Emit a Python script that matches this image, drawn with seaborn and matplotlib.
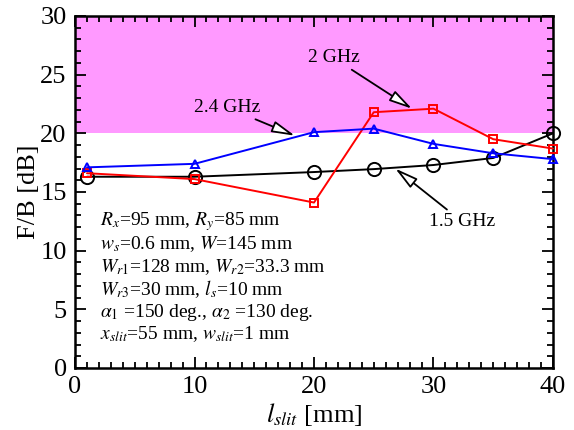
import numpy as np
import pandas as pd
import matplotlib
matplotlib.use('Agg')
import matplotlib.pyplot as plt
import seaborn as sns
from matplotlib.ticker import MultipleLocator

# Data
l_slit = [1, 10, 20, 25, 30, 35, 40]
fb_15 = [16.3, 16.3, 16.7, 16.95, 17.3, 17.9, 20.0]
fb_20 = [16.6, 16.1, 14.1, 21.8, 22.1, 19.5, 18.7]
fb_24 = [17.1, 17.4, 20.1, 20.4, 19.1, 18.3, 17.8]

param_lines = [
    r'$R_x$=95 mm, $R_y$=85 mm',
    r'$w_s$=0.6 mm, $W$=145 mm',
    r'$W_{r\mathrm{1}}$=128 mm, $W_{r\mathrm{2}}$=33.3 mm',
    r'$W_{r\mathrm{3}}$=30 mm, $l_s$=10 mm',
    r'$\alpha_1$ =150 deg., $\alpha_2$ =130 deg.',
    r'$x_{slit}$=55 mm, $w_{slit}$=1 mm',
]

sns.set_theme(style='ticks')
plt.rcParams['font.family'] = ['Liberation Serif', 'DejaVu Serif']
plt.rcParams['mathtext.fontset'] = 'stix'
plt.rcParams['text.color'] = 'black'
plt.rcParams['axes.labelcolor'] = 'black'
plt.rcParams['xtick.color'] = 'black'
plt.rcParams['ytick.color'] = 'black'

fig = plt.figure(figsize=(5.74, 4.3), dpi=100)
ax = fig.add_axes([0.1307, 0.1442, 0.8327, 0.8186])

# target region
ax.axhspan(20, 30, color='#ff99ff', lw=0, zorder=0)

df = pd.DataFrame({'l': l_slit, 'f15': fb_15, 'f20': fb_20, 'f24': fb_24})
sns.lineplot(data=df, x='l', y='f15', ax=ax, color='black', lw=1.4,
             marker='o', markersize=9.5, markerfacecolor='none',
             markeredgecolor='black', markeredgewidth=1.4, clip_on=False, zorder=3)
sns.lineplot(data=df, x='l', y='f20', ax=ax, color='red', lw=1.4,
             marker='s', markersize=5.5, markerfacecolor='none',
             markeredgecolor='red', markeredgewidth=1.4, clip_on=False, zorder=3)
sns.lineplot(data=df, x='l', y='f24', ax=ax, color='blue', lw=1.4,
             marker='^', markersize=6, markerfacecolor='none',
             markeredgecolor='blue', markeredgewidth=1.4, clip_on=False, zorder=3)

ax.set_xlim(0, 40)
ax.set_ylim(0, 30)
ax.xaxis.set_major_locator(MultipleLocator(10))
ax.xaxis.set_minor_locator(MultipleLocator(1))
ax.yaxis.set_major_locator(MultipleLocator(5))
ax.yaxis.set_minor_locator(MultipleLocator(1))
ax.tick_params(which='both', direction='in', top=True, right=True,
               color='black', width=1.3, labelsize=19, pad=6)
ax.tick_params(which='major', length=8)
ax.tick_params(which='minor', length=4)
for s in ax.spines.values():
    s.set_linewidth(1.8)
    s.set_color('black')

ax.set_xlabel(r'$l_{slit}$ [mm]', fontsize=19, labelpad=2)
ax.set_ylabel('F/B [dB]', fontsize=19, labelpad=0)

arrow = dict(arrowstyle='-|>,head_length=1.0,head_width=0.25', fc='white',
             ec='black', lw=1.3, shrinkA=0, shrinkB=0)
ax.annotate('2.4 GHz', xy=(18.4, 19.8), xytext=(15.5, 22.2), fontsize=14,
            ha='right', va='center', arrowprops=arrow)
ax.annotate('2 GHz', xy=(28.2, 22.1), xytext=(23.8, 25.7), fontsize=14,
            ha='right', va='bottom', arrowprops=arrow)
ax.annotate('1.5 GHz', xy=(26.8, 17.0), xytext=(29.6, 12.5), fontsize=14,
            ha='left', va='center', arrowprops=arrow)

for i, line in enumerate(param_lines):
    ax.text(2.1, 12.45 - i * 1.92, line, fontsize=14, va='center', ha='left')

fig.savefig('out.png', dpi=100)
